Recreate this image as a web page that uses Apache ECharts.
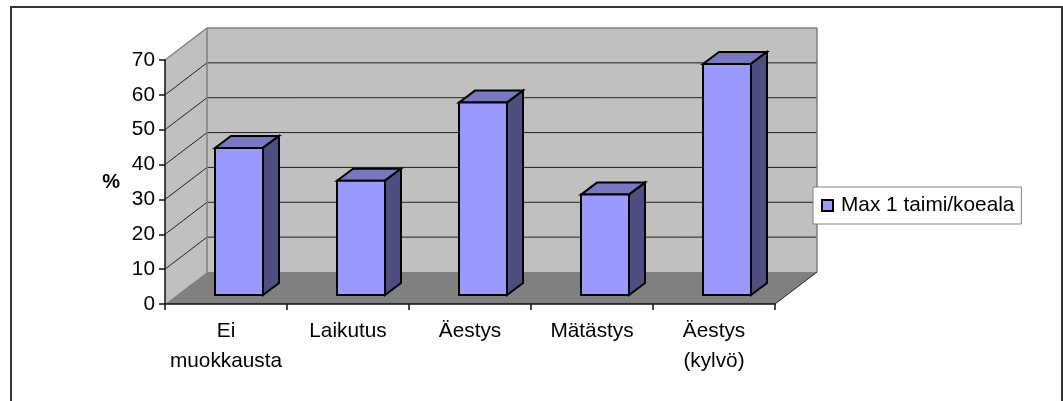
<!DOCTYPE html>
<html>
<head>
<meta charset="utf-8">
<script src="https://cdn.jsdelivr.net/npm/echarts@6/dist/echarts.min.js"></script>
<style>
html,body{margin:0;padding:0;background:#fff;overflow:hidden;}
#container{width:1063px;height:401px;}
</style>
</head>
<body>
<div id="container"></div>
<script>
var categories=['Ei\nmuokkausta','Laikutus','Äestys','Mätästys','Äestys\n(kylvö)'];
var values=[42.2,32.8,55.2,28.8,66.3];
var yTicks=[0,10,20,30,40,50,60,70];
var seriesName='Max 1 taimi/koeala';

var myChart=echarts.init(document.getElementById('container'));

// fake 3d: pixel offsets of the depth direction
var wallDx=42,wallDy=-32;
var barOffX=13,barOffY=-9;
var barDx=16,barDy=-12;
var barWidth=48;
var font='"Liberation Sans",Arial,sans-serif';
var fontSize=20.8;

function poly(points,fill,stroke,lw){
	return {type:'polygon',shape:{points:points},style:{fill:fill,stroke:stroke||null,lineWidth:lw||0}};
}
function seg(x1,y1,x2,y2,color,lw){
	return {type:'line',shape:{x1:x1,y1:y1,x2:x2,y2:y2},style:{stroke:color,lineWidth:lw}};
}

function renderWalls(params,api){
	var x0=params.coordSys.x;
	var x1=x0+params.coordSys.width;
	var yb=api.coord([0,0])[1];
	var yt=api.coord([0,70])[1];
	var kids=[];
	kids.push(poly([[x0,yb],[x0+wallDx,yb+wallDy],[x0+wallDx,yt+wallDy],[x0,yt]],'#c0c0c0'));
	kids.push(poly([[x0+wallDx,yb+wallDy],[x1+wallDx,yb+wallDy],[x1+wallDx,yt+wallDy],[x0+wallDx,yt+wallDy]],'#c0c0c0'));
	kids.push(poly([[x0,yb],[x1,yb],[x1+wallDx,yb+wallDy],[x0+wallDx,yb+wallDy]],'#808080'));
	for(var i=0;i<yTicks.length;++i){
		var y=api.coord([0,yTicks[i]])[1];
		if(yTicks[i]>0&&yTicks[i]<70){
			kids.push(seg(x0,y,x0+wallDx,y+wallDy,'#222',1));
			kids.push(seg(x0+wallDx,y+wallDy,x1+wallDx,y+wallDy,'#222',1));
		}
	}
	kids.push(seg(x0,yt,x0+wallDx,yt+wallDy,'#808080',1.5));
	kids.push(seg(x0+wallDx,yt+wallDy,x1+wallDx,yt+wallDy,'#808080',1.5));
	kids.push(seg(x0+wallDx,yb+wallDy,x0+wallDx,yt+wallDy,'#808080',1.5));
	kids.push(seg(x1+wallDx,yb+wallDy,x1+wallDx,yt+wallDy,'#808080',1.5));
	kids.push(seg(x1,yb,x1+wallDx,yb+wallDy,'#222',1));
	return {type:'group',children:kids};
}

function renderBar(params,api){
	var top=api.coord([api.value(0),api.value(1)]);
	var base=api.coord([api.value(0),0]);
	var l=top[0]-barWidth/2+barOffX,r=l+barWidth;
	var t=top[1]+barOffY,b=base[1]+barOffY;
	return {type:'group',children:[
		poly([[l,t],[r,t],[r+barDx,t+barDy],[l+barDx,t+barDy]],'#7878c0','#000',2),
		poly([[r,t],[r+barDx,t+barDy],[r+barDx,b+barDy],[r,b]],'#4e4e80','#000',2),
		poly([[l,t],[r,t],[r,b],[l,b]],api.visual('color'),'#000',2)
	]};
}

var option={
	animation:false,
	backgroundColor:'#fff',
	textStyle:{fontFamily:font},
	graphic:[{
		type:'polyline',
		shape:{points:[[11,410],[11,7],[1062,7],[1062,410]]},
		style:{fill:null,stroke:'#333',lineWidth:2},
		silent:true
	}],
	legend:{
		left:813,
		top:187,
		orient:'vertical',
		data:[seriesName],
		icon:'rect',
		itemWidth:11,
		itemHeight:11,
		itemGap:0,
		padding:[8,7,8,8],
		backgroundColor:'#fff',
		borderColor:'#808080',
		borderWidth:1,
		borderRadius:0,
		textStyle:{fontFamily:font,fontSize:fontSize,color:'#000',padding:[0,0,0,3]},
		itemStyle:{borderColor:'#000',borderWidth:2},
		z:20
	},
	grid:{left:165,right:288,top:60,bottom:97},
	xAxis:{
		type:'category',
		data:categories,
		z:5,
		axisLine:{show:true,lineStyle:{color:'#111',width:1.5}},
		axisTick:{show:true,length:6,alignWithLabel:false,lineStyle:{color:'#111',width:1.5}},
		axisLabel:{fontFamily:font,fontSize:fontSize,color:'#000',margin:12,lineHeight:30,interval:0}
	},
	yAxis:{
		type:'value',
		min:0,
		max:70,
		interval:10,
		z:5,
		name:'%',
		nameLocation:'middle',
		nameRotate:0,
		nameGap:45,
		nameTextStyle:{fontFamily:font,fontSize:20,fontWeight:'bold',color:'#000'},
		splitLine:{show:false},
		axisLine:{show:true,lineStyle:{color:'#111',width:1.5}},
		axisTick:{show:true,length:6,lineStyle:{color:'#111',width:1.5}},
		axisLabel:{fontFamily:font,fontSize:fontSize,color:'#000',margin:10}
	},
	series:[{
		type:'custom',
		z:1,
		silent:true,
		clip:false,
		legendHoverLink:false,
		renderItem:renderWalls,
		data:[[0,0]],
		encode:{x:0,y:1},
		tooltip:{show:false}
	},{
		name:seriesName,
		type:'custom',
		z:3,
		clip:false,
		itemStyle:{color:'#9999ff'},
		renderItem:renderBar,
		data:values.map(function(v,i){return [i,v];}),
		encode:{x:0,y:1}
	}]
};
myChart.setOption(option);
</script>
</body>
</html>
